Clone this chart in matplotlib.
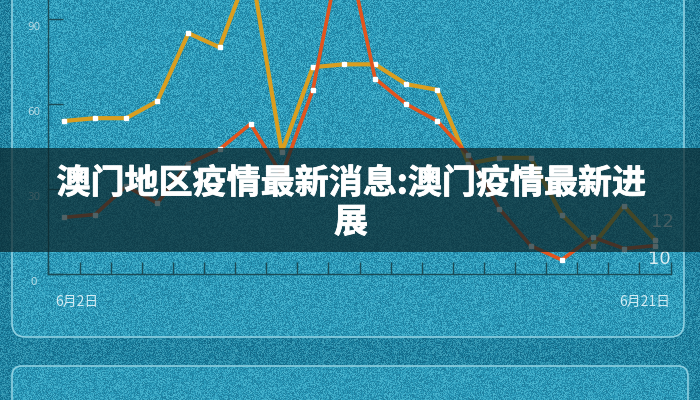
import matplotlib
matplotlib.use("Agg")
import matplotlib.pyplot as plt
import matplotlib.patheffects as pe
from matplotlib.patches import FancyBboxPatch, Rectangle
from matplotlib.colors import LinearSegmentedColormap
import numpy as np

plt.rcParams['font.family'] = ['Noto Sans CJK SC', 'DejaVu Sans']

# data
days = ['6月2日', '6月3日', '6月4日', '6月5日', '6月6日', '6月7日', '6月8日',
        '6月9日', '6月10日', '6月11日', '6月12日', '6月13日', '6月14日',
        '6月15日', '6月16日', '6月17日', '6月18日', '6月19日', '6月20日',
        '6月21日']
gold_vals = [54, 55, 55, 61, 85, 80, 109, 43, 73, 74, 74, 67, 65, 39, 41, 41,
             21, 10, 24, 12]
red_vals = [20, 21, 31, 25, 39, 44, 53, 35, 65, 120, 69, 60, 54, 42, 23, 10,
            5, 13, 9, 10]
yticks = [0, 30, 60, 90]
title_lines = ['澳门地区疫情最新消息:澳门疫情最新进', '展']

W, H = 700, 400
fig = plt.figure(figsize=(7, 4), dpi=100)

# background with speckle texture
bg = fig.add_axes([0, 0, 1, 1], zorder=-2)
bg.set_xlim(0, W)
bg.set_ylim(H, 0)
bg.axis('off')
bg.add_patch(Rectangle((0, 0), W, H, color='#13708e', zorder=0))
panels = [((12, -30), 672, 367, 14), ((12, 366), 676, 80, 10)]
for xy, w, h, r in panels:
    bg.add_patch(FancyBboxPatch(xy, w, h, boxstyle=f'round,pad=0,rounding_size={r}',
                                facecolor='#2a9aba', edgecolor='none', zorder=1))
speckle = LinearSegmentedColormap.from_list('speckle', ['#0d5f80', '#2a9aba', '#6fd6ea'])
rng = np.random.default_rng(3)
noise = rng.random((H, W))
bg.imshow(noise, cmap=speckle, extent=(0, W, H, 0), alpha=0.5, zorder=2,
          interpolation='nearest', aspect='auto')
for xy, w, h, r in panels:
    bg.add_patch(FancyBboxPatch(xy, w, h, boxstyle=f'round,pad=0,rounding_size={r}',
                                facecolor='none', edgecolor='#8ccfe0', lw=1.2, zorder=3))

# chart
x = np.arange(len(days))
step = (655 - 64) / 19
left = 64 - 0.5 * step
ax = fig.add_axes([left / W, (H - 274) / H, 20 * step / W, 274 / H], zorder=0)
ax.patch.set_alpha(0)
ax.set_xlim(-0.5, 19.5)
ax.set_ylim(0, 274 / (85 / 30))

ax.plot(x, gold_vals, color='#d99e20', lw=3.0, marker='s', ms=3.2,
        mfc='white', mec='white', zorder=3)
ax.plot(x, red_vals, color='#e2541d', lw=2.6, marker='s', ms=3.2,
        mfc='white', mec='white', zorder=4)

for s in ['top', 'right']:
    ax.spines[s].set_visible(False)
for s in ['left', 'bottom']:
    ax.spines[s].set_color('#1c4c57')
    ax.spines[s].set_linewidth(1.0)

ax.set_yticks(yticks)
ax.set_yticklabels([])
ax.tick_params(axis='y', direction='in', length=11, color='#1c4c57', width=1)
ax.set_xticks(np.arange(-0.5, 20, 1))
ax.set_xticklabels([])
ax.tick_params(axis='x', direction='in', length=9, color='#1c4c57', width=1)

for v in yticks:
    ax.annotate(str(v), xy=(0, v), xycoords=('axes fraction', 'data'),
                xytext=(-15, -8), textcoords='offset pixels',
                ha='center', va='center', fontsize=7.5, color='#b5dbe5',
                family='DejaVu Sans')

ax.annotate(days[0], xy=(0, 0), xycoords='axes fraction', xytext=(7, -28),
            textcoords='offset pixels', ha='left', va='center',
            fontsize=10, color='#d3ecf3')
ax.annotate(days[-1], xy=(1, 0), xycoords='axes fraction', xytext=(0, -28),
            textcoords='offset pixels', ha='right', va='center',
            fontsize=10, color='#d3ecf3')

ax.annotate(str(gold_vals[-1]), xy=(x[-1], gold_vals[-1]), xytext=(7, 18),
            textcoords='offset pixels', ha='center', va='center',
            fontsize=13, color='#d9edf2', family='DejaVu Sans')
ax.annotate(str(red_vals[-1]), xy=(x[-1], red_vals[-1]), xytext=(4, -13),
            textcoords='offset pixels', ha='center', va='center',
            fontsize=13, color='#d9edf2', family='DejaVu Sans')

# title banner
fig.patches.append(Rectangle((0, (H - 252) / H), 1, 104 / H, transform=fig.transFigure,
                             facecolor='#0b262b', alpha=0.72, lw=0, zorder=5))
thick = [pe.withStroke(linewidth=0.6, foreground='white')]
fig.text(351 / W, (H - 183) / H, title_lines[0], ha='center', va='center',
         fontsize=24.5, fontweight='heavy', color='white', zorder=6,
         path_effects=thick)
fig.text(351 / W, (H - 222) / H, title_lines[1], ha='center', va='center',
         fontsize=24.5, fontweight='heavy', color='white', zorder=6,
         path_effects=thick)

fig.savefig('out.png', dpi=100)
